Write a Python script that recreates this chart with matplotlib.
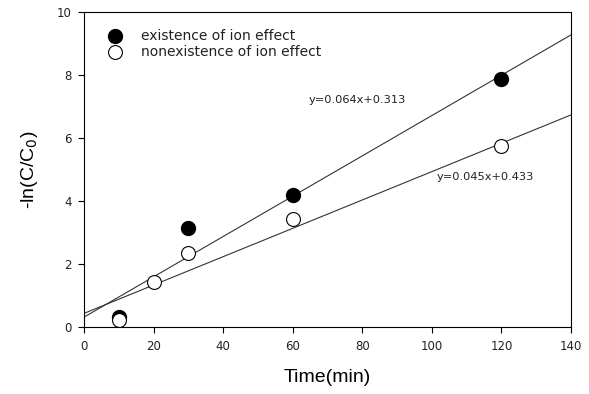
import numpy as np
import matplotlib
matplotlib.use("Agg")
import matplotlib.pyplot as plt

# measured data
t_ion = [10, 30, 60, 120]
y_ion = [0.33, 3.15, 4.18, 7.86]
t_noion = [10, 20, 30, 60, 120]
y_noion = [0.22, 1.43, 2.34, 3.43, 5.75]

# linear fits as printed on the chart
fit_ion = (0.064, 0.313)
fit_noion = (0.045, 0.433)

plt.rcParams['font.family'] = ['DejaVu Sans']
txt = '#222222'

fig = plt.figure(figsize=(5.89, 3.94), dpi=100)
ax = fig.add_axes([0.1426, 0.170, 0.8268, 0.7995])

xs = np.array([0, 140])
ax.plot(xs, fit_ion[0] * xs + fit_ion[1], color='#333333', lw=0.8, zorder=1)
ax.plot(xs, fit_noion[0] * xs + fit_noion[1], color='#333333', lw=0.8, zorder=1)

ax.scatter(t_ion, y_ion, s=100, color='black', edgecolors='black', zorder=3,
           label='existence of ion effect')
ax.scatter(t_noion, y_noion, s=100, facecolors='white', edgecolors='black',
           linewidths=0.8, zorder=3, label='nonexistence of ion effect')

ax.text(64.5, 7.2, 'y=0.064x+0.313', fontsize=8.2, va='center', color=txt)
ax.text(101.5, 4.75, 'y=0.045x+0.433', fontsize=8.2, va='center', color=txt)

ax.set_xlim(0, 140)
ax.set_ylim(0, 10)
ax.set_xticks(range(0, 141, 20))
ax.set_yticks(range(0, 11, 2))
ax.tick_params(direction='out', length=4, width=0.8, labelsize=8.5, pad=5,
               labelcolor=txt, top=False, right=False)
for s in ax.spines.values():
    s.set_linewidth(0.8)

ax.set_xlabel('Time(min)', fontsize=14, labelpad=12,
              family=['Liberation Sans', 'DejaVu Sans'])
ax.set_ylabel('-ln(C/C$_0$)', fontsize=14, labelpad=12,
              family=['Liberation Sans', 'DejaVu Sans'])

leg = ax.legend(loc='upper left', frameon=False, fontsize=10, handletextpad=0.9,
                labelspacing=0.15, bbox_to_anchor=(0.0, 1.0), borderaxespad=0.9,
                borderpad=0.3)
for t in leg.get_texts():
    t.set_color(txt)

fig.savefig('out.png', dpi=100)
